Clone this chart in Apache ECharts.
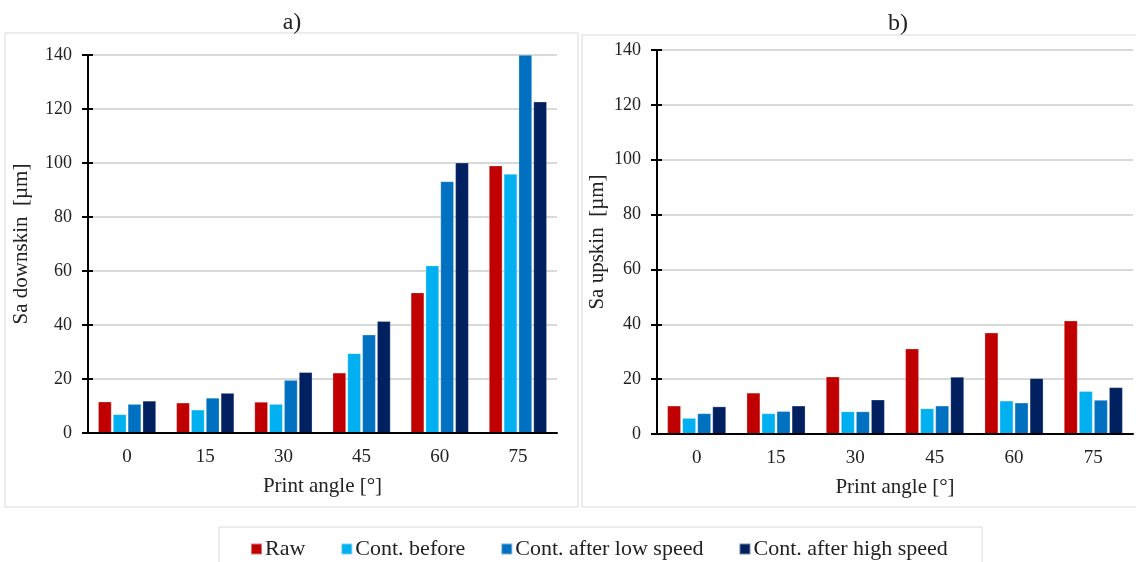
<!DOCTYPE html>
<html>
<head>
<meta charset="utf-8">
<script src="https://cdn.jsdelivr.net/npm/echarts@6/dist/echarts.min.js"></script>
<style>
html,body{margin:0;padding:0;background:#fff;}
#chart{width:1136px;height:562px;}
</style>
</head>
<body>
<div id="chart"></div>
<script>
const categories = ['0', '15', '30', '45', '60', '75'];
const seriesNames = ['Raw', 'Cont. before', 'Cont. after low speed', 'Cont. after high speed'];
const colors = ['#C00000', '#00B0F0', '#0070C0', '#002060'];

// a) Sa downskin [µm]
const downRaw = [11.6, 11.2, 11.5, 22.3, 52.0, 99.0];
const downBefore = [6.9, 8.6, 10.7, 29.5, 62.0, 95.9];
const downLow = [10.7, 13.0, 19.6, 36.4, 93.2, 140.0];
const downHigh = [11.9, 14.8, 22.5, 41.4, 100.1, 122.7];

// b) Sa upskin [µm]
const upRaw = [10.3, 15.0, 20.9, 31.1, 36.9, 41.3];
const upBefore = [5.8, 7.5, 8.2, 9.3, 12.1, 15.6];
const upLow = [7.5, 8.3, 8.2, 10.3, 11.4, 12.4];
const upHigh = [10.0, 10.3, 12.5, 20.8, 20.3, 17.0];

const yTicks = [0, 20, 40, 60, 80, 100, 120, 140];

const FONT = '"Liberation Serif", "DejaVu Serif", serif';
const chart = echarts.init(document.getElementById('chart'));

function yMain(gridIndex, name, gap) {
  return {
    type: 'value', gridIndex: gridIndex, min: yTicks[0], max: yTicks[yTicks.length - 1], interval: yTicks[1] - yTicks[0],
    name: name, nameLocation: 'middle', nameGap: gap, nameRotate: 90,
    nameTextStyle: {fontFamily: FONT, fontSize: 21, color: '#222'},
    axisLine: {show: true, lineStyle: {color: '#000', width: 2}},
    axisTick: {show: true, inside: false, length: 6, lineStyle: {color: '#000', width: 2}},
    axisLabel: {fontFamily: FONT, fontSize: 18, color: '#222', margin: 16},
    splitLine: {show: true, lineStyle: {color: '#d9d9d9', width: 2}}
  };
}
function yOverlay(gridIndex) {
  return {
    type: 'value', gridIndex: gridIndex, min: yTicks[0], max: yTicks[yTicks.length - 1], interval: yTicks[1] - yTicks[0],
    position: 'left',
    axisLine: {show: false},
    axisTick: {show: true, inside: true, length: 5, lineStyle: {color: '#000', width: 2}},
    axisLabel: {show: false},
    splitLine: {show: false}
  };
}
function xCat(gridIndex) {
  return {
    type: 'category', gridIndex: gridIndex, data: categories,
    name: 'Print angle [°]', nameLocation: 'middle', nameGap: 43,
    nameTextStyle: {fontFamily: FONT, fontSize: 21, color: '#222'},
    axisLine: {show: true, lineStyle: {color: '#000', width: 2}},
    axisTick: {show: false},
    axisLabel: {fontFamily: FONT, fontSize: 19, color: '#222', margin: 15},
    z: 5
  };
}
function barSeries(name, data, idx, gridIdx) {
  return {
    name: name, type: 'bar', data: data,
    xAxisIndex: gridIdx, yAxisIndex: gridIdx * 2,
    itemStyle: {color: colors[idx], borderColor: 'rgba(255,255,255,0.45)', borderWidth: 0.6},
    barGap: '11%', barCategoryGap: '26%'
  };
}

const option = {
  animation: false,
  backgroundColor: '#fff',
  title: [
    {text: 'a)', left: 287, top: 6, textAlign: 'center', textStyle: {fontFamily: FONT, fontSize: 24, fontWeight: 'normal', color: '#222'}},
    {text: 'b)', left: 893, top: 7, textAlign: 'center', textStyle: {fontFamily: FONT, fontSize: 24, fontWeight: 'normal', color: '#222'}}
  ],
  graphic: [
    {type: 'rect', shape: {x: 5, y: 33, width: 573, height: 474}, style: {fill: 'none', stroke: '#d9d9d9', lineWidth: 1}, silent: true, z: -1},
    {type: 'rect', shape: {x: 582, y: 35, width: 560, height: 472}, style: {fill: 'none', stroke: '#d9d9d9', lineWidth: 1}, silent: true, z: -1},
    {type: 'rect', shape: {x: 219, y: 527, width: 763, height: 50}, style: {fill: 'none', stroke: '#d9d9d9', lineWidth: 1}, silent: true, z: -1}
  ],
  legend: {
    data: seriesNames, left: 245, top: 533, icon: 'rect', itemWidth: 11, itemHeight: 11, itemGap: 35,
    textStyle: {fontFamily: FONT, fontSize: 22, color: '#222', padding: [0, 0, 0, -2]}
  },
  grid: [
    {left: 88, right: 579, top: 55, bottom: 129},
    {left: 657, right: 3, top: 50, bottom: 128}
  ],
  xAxis: [xCat(0), xCat(1)],
  yAxis: [yMain(0, 'Sa downskin  [µm]', 56), yOverlay(0), yMain(1, 'Sa upskin  [µm]', 49), yOverlay(1)],
  series: [
    barSeries(seriesNames[0], downRaw, 0, 0),
    barSeries(seriesNames[1], downBefore, 1, 0),
    barSeries(seriesNames[2], downLow, 2, 0),
    barSeries(seriesNames[3], downHigh, 3, 0),
    barSeries(seriesNames[0], upRaw, 0, 1),
    barSeries(seriesNames[1], upBefore, 1, 1),
    barSeries(seriesNames[2], upLow, 2, 1),
    barSeries(seriesNames[3], upHigh, 3, 1)
  ]
};
chart.setOption(option);
</script>
</body>
</html>
